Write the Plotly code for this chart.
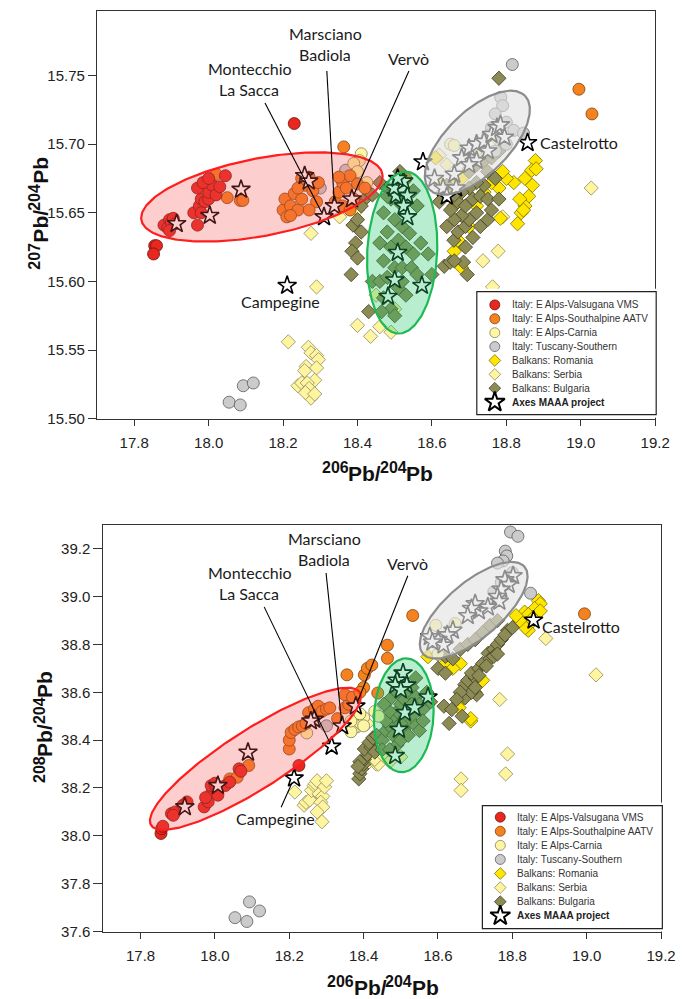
import numpy as np
import plotly.graph_objects as go

W, H = 685, 999

# ---------------- DATA: top panel (207Pb/204Pb vs 206Pb/204Pb) ----------------
valsugana_top_x = [17.855, 17.860, 17.852, 17.880, 17.890, 17.895, 17.900, 17.905, 17.910, 17.895,
                   17.960, 17.970, 17.975, 17.980, 17.990, 18.000, 18.000, 18.010, 18.020, 17.970,
                   17.985, 18.000, 18.030, 18.045, 17.980, 18.230]
valsugana_top_y = [15.626, 15.626, 15.620, 15.641, 15.639, 15.645, 15.643, 15.646, 15.642, 15.637,
                   15.650, 15.641, 15.655, 15.660, 15.658, 15.660, 15.665, 15.670, 15.663, 15.668,
                   15.672, 15.675, 15.669, 15.677, 15.650, 15.715]

southalpine_top_x = [18.050, 18.085, 18.020, 18.200, 18.210, 18.205, 18.220, 18.230, 18.240, 18.250,
                     18.260, 18.270, 18.280, 18.290, 18.295, 18.250, 18.240, 18.270, 18.220, 18.340,
                     18.350, 18.360, 18.370, 18.380, 18.390, 18.400, 18.360, 18.380, 18.350, 18.363,
                     18.995, 19.030, 18.530, 18.420, 18.092]
southalpine_top_y = [15.661, 15.659, 15.678, 15.652, 15.647, 15.660, 15.655, 15.664, 15.652, 15.660,
                     15.670, 15.676, 15.666, 15.658, 15.672, 15.675, 15.668, 15.652, 15.648, 15.658,
                     15.665, 15.672, 15.668, 15.677, 15.660, 15.671, 15.655, 15.652, 15.676, 15.698,
                     15.740, 15.722, 15.675, 15.668, 15.659]

carnia_top_x = [18.410, 18.405, 18.390, 18.400, 18.370, 18.360, 18.240, 18.650, 18.660, 18.425]
carnia_top_y = [15.693, 15.688, 15.686, 15.680, 15.676, 15.668, 15.654, 15.700, 15.699, 15.672]

tuscany_top_x = [18.055, 18.085, 18.093, 18.120, 18.816, 18.785, 18.790, 18.770, 18.800, 18.760,
                 18.750, 18.780, 18.730, 18.820, 18.846, 18.800, 18.770, 18.300, 18.368]
tuscany_top_y = [15.512, 15.510, 15.524, 15.526, 15.758, 15.734, 15.728, 15.722, 15.716, 15.712,
                 15.706, 15.705, 15.700, 15.710, 15.708, 15.700, 15.695, 15.668, 15.681]

romania_top_x = [18.878, 18.868, 18.850, 18.870, 18.860, 18.850, 18.840, 18.836, 18.846, 18.820,
                 18.800, 18.780, 18.790, 18.760, 18.740, 18.700, 18.680, 18.660, 18.659, 18.640,
                 18.620, 18.610, 18.784, 18.700, 18.660, 18.680, 18.670, 18.720, 18.880, 18.830]
romania_top_y = [15.688, 15.681, 15.675, 15.670, 15.662, 15.655, 15.650, 15.660, 15.652, 15.672,
                 15.675, 15.668, 15.680, 15.672, 15.665, 15.682, 15.675, 15.670, 15.655, 15.664,
                 15.672, 15.690, 15.646, 15.640, 15.622, 15.610, 15.630, 15.655, 15.682, 15.642]

serbia_top_x = [18.214, 18.268, 18.275, 18.262, 18.258, 18.290, 18.295, 18.290, 18.285, 18.240,
                18.250, 18.265, 18.270, 18.275, 18.260, 18.285, 18.290, 18.275, 18.400, 18.435,
                18.460, 18.490, 18.352, 18.400, 18.737, 18.778, 18.763, 18.790, 19.028, 18.620,
                18.640, 18.660, 18.560, 18.500, 18.450, 18.720, 18.770, 18.630]
serbia_top_y = [15.556, 15.552, 15.548, 15.538, 15.535, 15.546, 15.543, 15.537, 15.528, 15.524,
                15.526, 15.526, 15.522, 15.515, 15.519, 15.518, 15.596, 15.635, 15.568, 15.560,
                15.567, 15.563, 15.647, 15.652, 15.615, 15.622, 15.596, 15.647, 15.668, 15.692,
                15.685, 15.660, 15.655, 15.580, 15.590, 15.695, 15.705, 15.665]

bulgaria_top_x = [18.388, 18.400, 18.410, 18.395, 18.385, 18.400, 18.383, 18.430, 18.440, 18.420,
                  18.430, 18.410, 18.460, 18.480, 18.490, 18.510, 18.530, 18.550, 18.560, 18.470,
                  18.500, 18.520, 18.540, 18.480, 18.460, 18.490, 18.510, 18.530, 18.550, 18.570,
                  18.470, 18.500, 18.520, 18.545, 18.560, 18.460, 18.480, 18.510, 18.530, 18.470,
                  18.490, 18.500, 18.465, 18.520, 18.590, 18.600, 18.633, 18.649, 18.685, 18.659,
                  18.670, 18.690, 18.700, 18.720, 18.680, 18.660, 18.640, 18.650, 18.670, 18.690,
                  18.710, 18.730, 18.750, 18.740, 18.720, 18.700, 18.680, 18.660, 18.640, 18.620,
                  18.700, 18.720, 18.740, 18.760, 18.750, 18.780, 18.690, 18.710, 18.730, 18.750,
                  18.760, 18.780, 18.770, 18.695, 18.660, 18.780, 18.440, 18.480, 18.514]
bulgaria_top_y = [15.641, 15.645, 15.636, 15.628, 15.622, 15.617, 15.605, 15.578, 15.600, 15.660,
                  15.665, 15.655, 15.672, 15.668, 15.660, 15.658, 15.662, 15.666, 15.655, 15.650,
                  15.645, 15.640, 15.635, 15.636, 15.628, 15.625, 15.630, 15.625, 15.620, 15.628,
                  15.615, 15.610, 15.610, 15.610, 15.605, 15.600, 15.603, 15.595, 15.590, 15.588,
                  15.580, 15.575, 15.578, 15.600, 15.620, 15.605, 15.611, 15.614, 15.614, 15.630,
                  15.636, 15.640, 15.645, 15.650, 15.648, 15.645, 15.640, 15.652, 15.658, 15.655,
                  15.660, 15.662, 15.660, 15.670, 15.672, 15.668, 15.665, 15.663, 15.670, 15.658,
                  15.680, 15.685, 15.688, 15.690, 15.680, 15.695, 15.625, 15.632, 15.640, 15.645,
                  15.652, 15.660, 15.675, 15.605, 15.615, 15.748, 15.663, 15.662, 15.680]

maaa_top_x = [17.914, 18.003, 18.087, 18.258, 18.269, 18.211, 18.310, 18.338, 18.385, 18.857,
              18.503, 18.534, 18.524, 18.534, 18.508, 18.500, 18.482, 18.573, 18.498, 18.524, 18.508,
              18.576, 18.607, 18.630, 18.660, 18.680, 18.700, 18.720, 18.740, 18.760, 18.775,
              18.784, 18.795, 18.720, 18.665, 18.640, 18.750, 18.700]
maaa_top_y = [15.642, 15.648, 15.667, 15.677, 15.673, 15.597, 15.647, 15.655, 15.660, 15.701,
              15.6625, 15.6625, 15.655, 15.647, 15.621, 15.601, 15.589, 15.597, 15.668, 15.673, 15.675,
              15.687, 15.675, 15.668, 15.678, 15.690, 15.697, 15.700, 15.702, 15.707, 15.712,
              15.714, 15.705, 15.688, 15.668, 15.662, 15.695, 15.685]

# ---------------- DATA: bottom panel (208Pb/204Pb vs 206Pb/204Pb) ----------------
valsugana_bot_x = [17.855, 17.857, 17.860, 17.883, 17.893, 17.888, 17.914, 17.925, 17.971, 17.982,
                   17.992, 17.990, 18.003, 18.008, 18.028, 18.040, 18.065, 18.070, 18.226, 17.975, 18.000]
valsugana_bot_y = [38.010, 38.030, 38.040, 38.093, 38.100, 38.086, 38.128, 38.142, 38.121, 38.142,
                   38.183, 38.210, 38.204, 38.170, 38.210, 38.225, 38.280, 38.270, 38.294, 38.160, 38.220]

southalpine_bot_x = [18.040, 18.060, 18.091, 18.200, 18.200, 18.205, 18.215, 18.225, 18.235, 18.245,
                     18.252, 18.268, 18.278, 18.288, 18.300, 18.309, 18.330, 18.350, 18.360, 18.376,
                     18.350, 18.370, 18.355, 18.402, 18.410, 18.422, 18.464, 18.464, 18.532, 18.994,
                     18.438, 18.400, 18.390]
southalpine_bot_y = [38.238, 38.245, 38.294, 38.363, 38.400, 38.432, 38.445, 38.455, 38.460, 38.470,
                     38.515, 38.530, 38.542, 38.520, 38.530, 38.535, 38.490, 38.535, 38.550, 38.560,
                     38.590, 38.580, 38.673, 38.673, 38.700, 38.714, 38.797, 38.742, 38.921, 38.928,
                     38.597, 38.620, 38.600]

carnia_bot_x = [18.247, 18.366, 18.366, 18.400, 18.400, 18.390, 18.594, 18.646, 18.600, 18.430, 18.440]
carnia_bot_y = [38.430, 38.435, 38.480, 38.495, 38.460, 38.510, 38.880, 38.887, 38.760, 38.520, 38.500]

tuscany_bot_x = [18.054, 18.086, 18.093, 18.120, 18.795, 18.815, 18.781, 18.785, 18.775, 18.760,
                 18.849, 18.800, 18.770, 18.790, 18.750, 18.300, 18.370]
tuscany_bot_y = [37.658, 37.642, 37.724, 37.686, 39.270, 39.252, 39.190, 39.170, 39.149, 39.140,
                 39.014, 39.100, 39.060, 39.080, 39.020, 38.460, 38.577]

romania_bot_x = [18.870, 18.875, 18.860, 18.833, 18.843, 18.855, 18.850, 18.843, 18.835, 18.820,
                 18.875, 18.810, 18.620, 18.573, 18.660, 18.668, 18.657, 18.688, 18.688, 18.700,
                 18.720, 18.640, 18.600]
romania_bot_y = [38.983, 38.970, 38.950, 38.935, 38.925, 38.910, 38.890, 38.859, 38.870, 38.900,
                 38.940, 38.920, 38.721, 38.749, 38.720, 38.577, 38.535, 38.480, 38.490, 38.600,
                 38.650, 38.700, 38.760]

serbia_bot_x = [18.215, 18.240, 18.245, 18.255, 18.260, 18.267, 18.270, 18.275, 18.280, 18.290,
                18.295, 18.300, 18.285, 18.290, 18.275, 18.288, 18.387, 18.413, 18.434, 18.766,
                18.662, 18.662, 18.787, 18.782, 19.025, 18.890, 18.370, 18.410, 18.440, 18.430,
                18.450, 18.500, 18.470]
serbia_bot_y = [38.183, 38.128, 38.140, 38.150, 38.190, 38.210, 38.218, 38.230, 38.175, 38.165,
                38.205, 38.230, 38.140, 38.120, 38.100, 38.059, 38.460, 38.307, 38.300, 38.570,
                38.238, 38.190, 38.342, 38.259, 38.673, 38.825, 38.440, 38.470, 38.300, 38.320,
                38.340, 38.330, 38.310]

bulgaria_bot_x = [18.387, 18.390, 18.395, 18.400, 18.402, 18.410, 18.402, 18.420, 18.415, 18.425,
                  18.430, 18.435, 18.390, 18.385, 18.450, 18.460, 18.470, 18.480, 18.490, 18.500,
                  18.510, 18.520, 18.530, 18.540, 18.550, 18.560, 18.570, 18.580, 18.460, 18.470,
                  18.480, 18.490, 18.500, 18.510, 18.520, 18.530, 18.540, 18.550, 18.560, 18.450,
                  18.470, 18.500, 18.520, 18.530, 18.490, 18.470, 18.455, 18.510, 18.540, 18.600,
                  18.620, 18.616, 18.637, 18.673, 18.704, 18.690, 18.672, 18.680, 18.700, 18.690,
                  18.710, 18.720, 18.735, 18.740, 18.750, 18.760, 18.770, 18.787, 18.780, 18.800,
                  18.750, 18.730, 18.710, 18.660, 18.650, 18.700, 18.760, 18.620, 18.640, 18.660,
                  18.680, 18.700, 18.720, 18.740, 18.760, 18.630, 18.665]
bulgaria_bot_y = [38.238, 38.260, 38.280, 38.300, 38.320, 38.340, 38.363, 38.370, 38.390, 38.410,
                  38.350, 38.420, 38.310, 38.290, 38.400, 38.440, 38.460, 38.500, 38.520, 38.550,
                  38.570, 38.600, 38.620, 38.580, 38.550, 38.530, 38.600, 38.560, 38.480, 38.520,
                  38.420, 38.380, 38.400, 38.450, 38.480, 38.500, 38.460, 38.440, 38.480, 38.360,
                  38.360, 38.470, 38.420, 38.550, 38.600, 38.570, 38.550, 38.640, 38.660, 38.700,
                  38.680, 38.542, 38.528, 38.577, 38.590, 38.600, 38.632, 38.650, 38.660, 38.680,
                  38.700, 38.720, 38.763, 38.740, 38.780, 38.800, 38.820, 38.859, 38.840, 38.870,
                  38.750, 38.710, 38.670, 38.600, 38.570, 38.620, 38.760, 38.750, 38.740, 38.780,
                  38.800, 38.820, 38.850, 38.880, 38.900, 38.470, 38.500]

maaa_bot_x = [17.919, 18.008, 18.089, 18.267, 18.258, 18.213, 18.314, 18.342, 18.379, 18.857,
              18.506, 18.490, 18.485, 18.516, 18.500, 18.573, 18.511, 18.537, 18.495, 18.485,
              18.802, 18.780, 18.790, 18.770, 18.760, 18.765, 18.734, 18.710, 18.700, 18.690,
              18.680, 18.640, 18.625, 18.600, 18.578, 18.615, 18.585]
maaa_bot_y = [38.121, 38.210, 38.349, 38.487, 38.480, 38.241, 38.374, 38.459, 38.542, 38.901,
              38.680, 38.650, 38.630, 38.630, 38.610, 38.580, 38.515, 38.535, 38.445, 38.335,
              39.087, 39.070, 39.050, 39.030, 39.000, 38.980, 38.956, 38.940, 38.970, 38.950,
              38.920, 38.859, 38.840, 38.820, 38.832, 38.797, 38.810]

# tick values / labels
xticks = [17.8, 18.0, 18.2, 18.4, 18.6, 18.8, 19.0, 19.2]
yticks_top = [15.50, 15.55, 15.60, 15.65, 15.70, 15.75]
yticks_bot = [37.6, 37.8, 38.0, 38.2, 38.4, 38.6, 38.8, 39.0, 39.2]

legend_names = ["Italy: E Alps-Valsugana VMS", "Italy: E Alps-Southalpine AATV", "Italy: E Alps-Carnia",
                "Italy: Tuscany-Southern", "Balkans: Romania", "Balkans: Serbia", "Balkans: Bulgaria",
                "Axes MAAA project"]

# axis title parts: (text, is_superscript)
xtitle_parts = [("206", True), ("Pb/", False), ("204", True), ("Pb", False)]
ytitle_top_parts = [("207", True), ("Pb/", False), ("204", True), ("Pb", False)]
ytitle_bot_parts = [("208", True), ("Pb/", False), ("204", True), ("Pb", False)]

# ---------------- STYLES ----------------
STY = {
    "val": dict(symbol="circle", color="#E8271F", line="#6e1410", size=12),
    "sou": dict(symbol="circle", color="#F5821F", line="#7a4212", size=12),
    "car": dict(symbol="circle", color="#FFF6A3", line="#80805a", size=12),
    "tus": dict(symbol="circle", color="#CBCBCB", line="#5c5c5c", size=12),
    "rom": dict(symbol="diamond", color="#FFE600", line="#7d7000", size=11),
    "ser": dict(symbol="diamond", color="#FFF4A0", line="#8e8c60", size=11),
    "bul": dict(symbol="diamond", color="#8C8A55", line="#3f3e22", size=11),
    "str": dict(symbol="star", color="#FFFFFF", line="#000000", size=14),
}
order = ["ser", "rom", "bul", "tus", "car", "sou", "val", "str"]
legend_keys = ["val", "sou", "car", "tus", "rom", "ser", "bul", "str"]

top_data = {
    "val": (valsugana_top_x, valsugana_top_y), "sou": (southalpine_top_x, southalpine_top_y),
    "car": (carnia_top_x, carnia_top_y), "tus": (tuscany_top_x, tuscany_top_y),
    "rom": (romania_top_x, romania_top_y), "ser": (serbia_top_x, serbia_top_y),
    "bul": (bulgaria_top_x, bulgaria_top_y), "str": (maaa_top_x, maaa_top_y),
}
bot_data = {
    "val": (valsugana_bot_x, valsugana_bot_y), "sou": (southalpine_bot_x, southalpine_bot_y),
    "car": (carnia_bot_x, carnia_bot_y), "tus": (tuscany_bot_x, tuscany_bot_y),
    "rom": (romania_bot_x, romania_bot_y), "ser": (serbia_bot_x, serbia_bot_y),
    "bul": (bulgaria_bot_x, bulgaria_bot_y), "str": (maaa_bot_x, maaa_bot_y),
}

# ellipses: center, conjugate semi-axis vectors (data units), line colour, fill
ellipses_top = [
    ((18.143, 15.6615), (0.324, 0.0165), (-0.015, 0.028), "#FF1E1E", "rgba(245,80,80,0.28)"),
    ((18.520, 15.621), (0.009, 0.059), (0.094, 0.0), "#1DB954", "rgba(40,200,110,0.33)"),
    ((18.722, 15.701), (0.1285, 0.0341), (0.0584, -0.0166), "#8C8C8C", "rgba(226,226,226,0.62)"),
]
ellipses_bot = [
    ((18.109, 38.322), (0.2806, 0.2776), (0.0418, -0.1054), "#FF1E1E", "rgba(245,80,80,0.28)"),
    ((18.508, 38.504), (0.006, 0.238), (0.080, 0.0), "#1DB954", "rgba(40,200,110,0.33)"),
    ((18.696, 38.943), (0.137, 0.1812), (0.0474, -0.0888), "#8C8C8C", "rgba(226,226,226,0.62)"),
]

fig = go.Figure()

def add_panel(data, ellipses, xa, ya):
    for k in order:
        s = STY[k]
        x, y = data[k]
        fig.add_trace(go.Scatter(
            x=x, y=y, mode="markers", xaxis=xa, yaxis=ya, showlegend=False, hoverinfo="skip",
            marker=dict(symbol=s["symbol"], size=s["size"], color=s["color"],
                        line=dict(color=s["line"], width=1.6 if k == "str" else 0.8))))
    t = np.linspace(0, 2 * np.pi, 240)
    for (c, a, b, lc, fc) in ellipses:
        ex = c[0] + a[0] * np.cos(t) + b[0] * np.sin(t)
        ey = c[1] + a[1] * np.cos(t) + b[1] * np.sin(t)
        fig.add_trace(go.Scatter(x=ex, y=ey, mode="lines", fill="toself", fillcolor=fc,
                                 line=dict(color=lc, width=2.2), xaxis=xa, yaxis=ya,
                                 showlegend=False, hoverinfo="skip"))

add_panel(top_data, ellipses_top, "x", "y")
add_panel(bot_data, ellipses_bot, "x2", "y2")

# ---------------- manual legends (compact rows like the original) ----------------
def add_legend(xa, ya, box, row0, dy, symx, textx):
    x0, y0, x1, y1 = box
    for i, k in enumerate(legend_keys):
        s = STY[k]
        fig.add_trace(go.Scatter(
            x=[symx - x0], y=[row0 + i * dy - y0], mode="markers", xaxis=xa, yaxis=ya,
            showlegend=False, hoverinfo="skip",
            marker=dict(symbol=s["symbol"], size=s["size"] - (2 if k != "str" else -1),
                        color=s["color"], line=dict(color=s["line"] if k != "str" else "#000",
                                                    width=2 if k == "str" else 0.8))))
        fig.add_annotation(x=textx / W, y=1 - (row0 + i * dy) / H, xref="paper", yref="paper",
                           text=legend_names[i], showarrow=False, xanchor="left", yanchor="middle",
                           font=dict(family="Liberation Sans, Arial, sans-serif", size=10,
                                     color="#222" if k == "str" else "#333",
                                     weight="bold" if k == "str" else "normal"))
    fig.add_shape(type="rect", xref=xa, yref=ya, x0=0, x1=x1 - x0, y0=0, y1=y1 - y0,
                  line=dict(color="#222", width=1.2), fillcolor="white", layer="below")

pad = 3
def leg_axes(box):
    x0, y0, x1, y1 = box
    xd = [(x0 - pad) / W, (x1 + pad) / W]
    yd = [1 - (y1 + pad) / H, 1 - (y0 - pad) / H]
    return (dict(domain=xd, range=[-pad, x1 - x0 + pad], visible=False, fixedrange=True),
            dict(domain=yd, range=[y1 - y0 + pad, -pad], visible=False, fixedrange=True))

box_top = (479.3, 286.0, 662.7, 410.0)
box_bot = (485.0, 804.0, 669.0, 928.0)
add_legend("x3", "y3", box_top, 299.3, 14.0, 497.7, 513.5)
add_legend("x4", "y4", box_bot, 815.7, 14.2, 503.3, 518.5)

# ---------------- axes ----------------
tickfont = dict(family="Liberation Sans, Arial, sans-serif", size=15, color="#222")
common = dict(showline=True, linecolor="#333", linewidth=1.2, mirror=True, ticks="outside",
              tickcolor="#333", tickwidth=1.2, showgrid=False, zeroline=False, tickfont=tickfont,
              fixedrange=True)

lx3, ly3 = leg_axes(box_top)
lx4, ly4 = leg_axes(box_bot)
fig.update_layout(
    width=W, height=H, margin=dict(l=0, r=0, t=0, b=0),
    paper_bgcolor="white", plot_bgcolor="white", showlegend=False,
    xaxis=dict(domain=[91 / W, 661.7 / W], range=[17.7, 19.2], tickvals=xticks,
               ticktext=[f"{v:.1f}" for v in xticks], ticklen=6, ticklabelstandoff=4, anchor="y", **common),
    yaxis=dict(domain=[1 - 414 / H, 1 - 3 / H], range=[15.5, 15.797], tickvals=yticks_top,
               ticktext=[f"{v:.2f}" for v in yticks_top], ticklen=8, anchor="x", **common),
    xaxis2=dict(domain=[97.5 / W, 667.7 / W], range=[17.7, 19.2], tickvals=xticks,
                ticktext=[f"{v:.1f}" for v in xticks], ticklen=6, ticklabelstandoff=4, anchor="y2", **common),
    yaxis2=dict(domain=[1 - 931 / H, 1 - 521 / H], range=[37.6, 39.3], tickvals=yticks_bot,
                ticktext=[f"{v:.1f}" for v in yticks_bot], ticklen=9, anchor="x2", **common),
    xaxis3=dict(anchor="y3", **lx3), yaxis3=dict(anchor="x3", **ly3),
    xaxis4=dict(anchor="y4", **lx4), yaxis4=dict(anchor="x4", **ly4),
)

# ---------------- axis titles: bold text with raised, smaller isotope numbers ----------------
EM = {"0": .556, "1": .556, "2": .556, "3": .556, "4": .556, "5": .556, "6": .556, "7": .556,
      "8": .556, "9": .556, "P": .667, "b": .611, "/": .278}   # Arial/Liberation Bold advance widths
MAIN, SUP, RAISE = 21, 16, 5.5

def title_parts(parts, cx, cy, vertical=False):
    widths = [sum(EM[c] for c in s) * (SUP if sup else MAIN) for s, sup in parts]
    total = sum(widths)
    off = 0.0
    for (s, sup), w in zip(parts, widths):
        f = dict(family="Liberation Sans, Arial, sans-serif", size=SUP if sup else MAIN,
                 color="#111", weight="bold")
        if not vertical:
            px = cx - total / 2 + off
            py = cy - (RAISE if sup else 0)
            fig.add_annotation(x=px / W, y=1 - py / H, xref="paper", yref="paper", showarrow=False,
                               xanchor="left", yanchor="middle", text=s, font=f, borderpad=0)
        else:
            py = cy + total / 2 - off
            px = cx - (RAISE if sup else 0)
            fig.add_annotation(x=px / W, y=1 - py / H, xref="paper", yref="paper", showarrow=False,
                               xanchor="center", yanchor="bottom", textangle=-90, text=s, font=f,
                               borderpad=0)
        off += w

title_parts(xtitle_parts, 376, 469)
title_parts(xtitle_parts, 382, 987)
title_parts(ytitle_top_parts, 33, 208, vertical=True)
title_parts(ytitle_bot_parts, 37.5, 726, vertical=True)

# ---------------- site labels (text + leader lines, offsets in pixels) ----------------
lfont = dict(family="Lato, Open Sans, sans-serif", size=16, color="#1a1a1a")

def text_at(x, y, xa, ya, text, dx, dy, **kw):
    fig.add_annotation(x=x, y=y, xref=xa, yref=ya, text=text, showarrow=False, font=lfont,
                       xshift=dx, yshift=dy, **kw)

def leader(x, y, xa, ya, dx, dy, gap=5):
    n = (dx * dx + dy * dy) ** 0.5
    fig.add_shape(type="line", xref=xa, yref=ya, xsizemode="pixel", ysizemode="pixel",
                  xanchor=x, yanchor=y, x0=dx, y0=dy, x1=dx / n * gap, y1=dy / n * gap,
                  line=dict(color="#000", width=1.1))

# top panel
text_at(18.310, 15.647, "x", "y", "Montecchio", -74, 148)
text_at(18.310, 15.647, "x", "y", "La Sacca", -75, 127)
leader(18.310, 15.647, "x", "y", -59, 114)
text_at(18.338, 15.655, "x", "y", "Marsciano", -9, 172)
text_at(18.338, 15.655, "x", "y", "Badiola", -9, 151)
leader(18.338, 15.655, "x", "y", -7.6, 135)
text_at(18.385, 15.660, "x", "y", "Vervò", 57, 141)
leader(18.385, 15.660, "x", "y", 57, 128)
text_at(18.857, 15.701, "x", "y", "Castelrotto", 10, 0, xanchor="left")
text_at(18.211, 15.597, "x", "y", "Campegine", -7, -16)

# bottom panel
text_at(18.314, 38.374, "x2", "y2", "Montecchio", -82, 174)
text_at(18.314, 38.374, "x2", "y2", "La Sacca", -83, 153)
leader(18.314, 38.374, "x2", "y2", -67.5, 139.5)
text_at(18.342, 38.459, "x2", "y2", "Marsciano", -17.6, 187.5)
text_at(18.342, 38.459, "x2", "y2", "Badiola", -17.6, 167)
leader(18.342, 38.459, "x2", "y2", -16, 153)
text_at(18.379, 38.542, "x2", "y2", "Vervò", 52, 143)
leader(18.379, 38.542, "x2", "y2", 52, 130.5)
text_at(18.857, 38.901, "x2", "y2", "Castelrotto", 6, -6, xanchor="left")
text_at(18.213, 38.241, "x2", "y2", "Campegine", -19, -40)
leader(18.213, 38.241, "x2", "y2", -13, -29)

fig.write_html("out.html")
